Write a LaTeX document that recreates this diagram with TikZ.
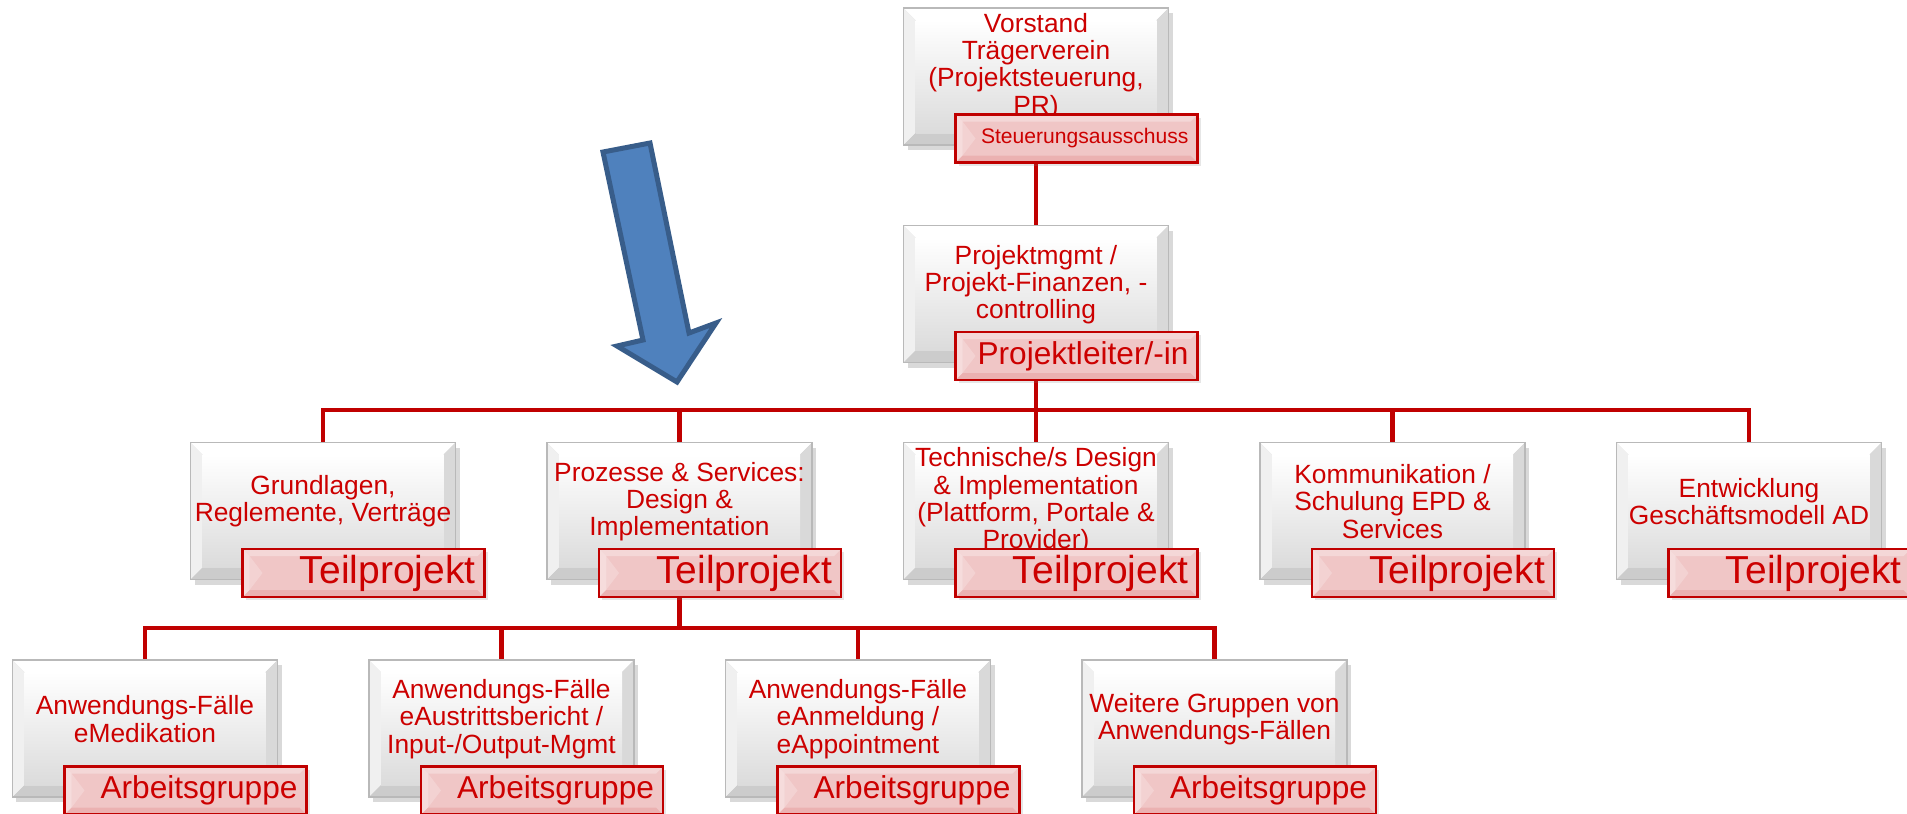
\documentclass[tikz,border=0pt]{standalone}
\usepackage{fontspec}
\setmainfont{Liberation Sans}
\usetikzlibrary{calc}
\usetikzlibrary{shadows}
\usetikzlibrary{backgrounds}

\definecolor{orgred}{RGB}{192,0,0}
\definecolor{textred}{RGB}{204,0,0}
\definecolor{rolepink}{RGB}{240,198,198}
\definecolor{arrowblue}{RGB}{79,129,189}
\definecolor{arrowedge}{RGB}{56,93,138}

\tikzset{
  orgbox/.style={rectangle, minimum width=2.65cm, minimum height=1.37cm, inner sep=0pt,
    draw=gray!55, line width=.5pt, fill=gray!30,
    drop shadow={shadow xshift=.04cm, shadow yshift=-.05cm, opacity=.3},
    path picture={
      \fill[white] (path picture bounding box.north west) -- (path picture bounding box.north east)
        -- ([shift={(-.12,-.12)}]path picture bounding box.north east)
        -- ([shift={(.12,-.12)}]path picture bounding box.north west) -- cycle;
      \fill[gray!12] (path picture bounding box.north west) -- ([shift={(.12,-.12)}]path picture bounding box.north west)
        -- ([shift={(.12,.12)}]path picture bounding box.south west) -- (path picture bounding box.south west) -- cycle;
      \fill[gray!30] (path picture bounding box.north east) -- (path picture bounding box.south east)
        -- ([shift={(-.12,.12)}]path picture bounding box.south east)
        -- ([shift={(-.12,-.12)}]path picture bounding box.north east) -- cycle;
      \fill[gray!40] (path picture bounding box.south west) -- ([shift={(.12,.12)}]path picture bounding box.south west)
        -- ([shift={(-.12,.12)}]path picture bounding box.south east) -- (path picture bounding box.south east) -- cycle;
      \shade[top color=white, bottom color=gray!28] ([shift={(.12,-.12)}]path picture bounding box.north west)
        rectangle ([shift={(-.12,.12)}]path picture bounding box.south east);
    }},
  boxtext/.style={text=textred, font=\fontsize{7.5}{7.75}\selectfont, align=center, inner sep=0pt},
  rolelabel/.style={rectangle, minimum width=2.42cm, minimum height=.48cm, inner xsep=.09cm, inner ysep=0pt,
    text width=2.24cm, align=right, text=textred, draw=orgred, line width=.6pt, fill=rolepink,
    drop shadow={shadow xshift=.03cm, shadow yshift=-.03cm, opacity=.2},
    path picture={
      \fill[white, opacity=.4] (path picture bounding box.north west) -- ([shift={(.07,-.07)}]path picture bounding box.north west)
        -- ([shift={(.07,.07)}]path picture bounding box.south west) -- (path picture bounding box.south west) -- cycle;
      \fill[white, opacity=.3] (path picture bounding box.north west) -- (path picture bounding box.north east)
        -- ([shift={(-.07,-.07)}]path picture bounding box.north east)
        -- ([shift={(.07,-.07)}]path picture bounding box.north west) -- cycle;
      \fill[orgred, opacity=.1] (path picture bounding box.south west) -- ([shift={(.07,.07)}]path picture bounding box.south west)
        -- ([shift={(-.07,.07)}]path picture bounding box.south east) -- (path picture bounding box.south east) -- cycle;
      \fill[white, opacity=.22] ([shift={(.07,-.07)}]path picture bounding box.north west)
        -- ([xshift=.2cm]path picture bounding box.west)
        -- ([shift={(.07,.07)}]path picture bounding box.south west) -- cycle;
    }},
  orgline/.style={draw=orgred, line width=.045cm},
}

\begin{document}
\begin{tikzpicture}

\useasboundingbox (0,0) rectangle (19.07,-8.13);

\coordinate (bus1) at (10.36,-4.10);
\coordinate (bus2) at (6.795,-6.28);

% Leitung
\node[orgbox] (vorstand) at (10.36,-0.765) {};
\node[boxtext] (vorstand-t) at ([yshift=.1cm]vorstand.center) {Vorstand\\Trägerverein\\(Projektsteuerung,\\PR)};
\node[rolelabel, font=\fontsize{6}{7}\selectfont] (vorstand-l) at ([shift={(.405,-.62)}]vorstand.center) {Steuerungsausschuss};

\node[orgbox] (pmgmt) at (10.36,-2.94) {};
\node[boxtext] (pmgmt-t) at ([yshift=.095cm]pmgmt.center) {Projektmgmt /\\Projekt-Finanzen, -\\controlling};
\node[rolelabel, font=\fontsize{9}{10}\selectfont] (pmgmt-l) at ([shift={(.405,-.62)}]pmgmt.center) {Projektleiter/-in};

% Teilprojekte
\node[orgbox] (tp1) at (3.23,-5.11) {};
\node[boxtext] (tp1-t) at ([yshift=.095cm]tp1.center) {Grundlagen,\\Reglemente, Verträge};
\node[rolelabel, font=\fontsize{11.1}{12}\selectfont] (tp1-l) at ([shift={(.405,-.62)}]tp1.center) {Teilprojekt};

\node[orgbox] (tp2) at (6.795,-5.11) {};
\node[boxtext] (tp2-t) at ([yshift=.095cm]tp2.center) {Prozesse \& Services:\\Design \&\\Implementation};
\node[rolelabel, font=\fontsize{11.1}{12}\selectfont] (tp2-l) at ([shift={(.405,-.62)}]tp2.center) {Teilprojekt};

\node[orgbox] (tp3) at (10.36,-5.11) {};
\node[boxtext] (tp3-t) at ([yshift=.1cm]tp3.center) {Technische/s Design\\\& Implementation\\(Plattform, Portale \&\\Provider)};
\node[rolelabel, font=\fontsize{11.1}{12}\selectfont] (tp3-l) at ([shift={(.405,-.62)}]tp3.center) {Teilprojekt};

\node[orgbox] (tp4) at (13.925,-5.11) {};
\node[boxtext] (tp4-t) at ([yshift=.095cm]tp4.center) {Kommunikation /\\Schulung EPD \&\\Services};
\node[rolelabel, font=\fontsize{11.1}{12}\selectfont] (tp4-l) at ([shift={(.405,-.62)}]tp4.center) {Teilprojekt};

\node[orgbox] (tp5) at (17.49,-5.11) {};
\node[boxtext] (tp5-t) at ([yshift=.095cm]tp5.center) {Entwicklung\\Geschäftsmodell AD};
\node[rolelabel, font=\fontsize{11.1}{12}\selectfont] (tp5-l) at ([shift={(.405,-.62)}]tp5.center) {Teilprojekt};

% Arbeitsgruppen
\node[orgbox] (ag1) at (1.45,-7.285) {};
\node[boxtext] (ag1-t) at ([yshift=.095cm]ag1.center) {Anwendungs-Fälle\\eMedikation};
\node[rolelabel, font=\fontsize{9}{10}\selectfont] (ag1-l) at ([shift={(.405,-.62)}]ag1.center) {Arbeitsgruppe};

\node[orgbox] (ag2) at (5.015,-7.285) {};
\node[boxtext] (ag2-t) at ([yshift=.095cm]ag2.center) {Anwendungs-Fälle\\eAustrittsbericht /\\Input-/Output-Mgmt};
\node[rolelabel, font=\fontsize{9}{10}\selectfont] (ag2-l) at ([shift={(.405,-.62)}]ag2.center) {Arbeitsgruppe};

\node[orgbox] (ag3) at (8.58,-7.285) {};
\node[boxtext] (ag3-t) at ([yshift=.095cm]ag3.center) {Anwendungs-Fälle\\eAnmeldung /\\eAppointment};
\node[rolelabel, font=\fontsize{9}{10}\selectfont] (ag3-l) at ([shift={(.405,-.62)}]ag3.center) {Arbeitsgruppe};

\node[orgbox] (ag4) at (12.145,-7.285) {};
\node[boxtext] (ag4-t) at ([yshift=.095cm]ag4.center) {Weitere Gruppen von\\Anwendungs-Fällen};
\node[rolelabel, font=\fontsize{9}{10}\selectfont] (ag4-l) at ([shift={(.405,-.62)}]ag4.center) {Arbeitsgruppe};

% Verbindungen
\begin{scope}[on background layer]
\draw[orgline] (vorstand) -- (pmgmt);
\draw[orgline] (pmgmt) -- (pmgmt |- bus1) -| (tp1);
\draw[orgline] (pmgmt) -- (pmgmt |- bus1) -| (tp2);
\draw[orgline] (pmgmt) -- (pmgmt |- bus1) -| (tp3);
\draw[orgline] (pmgmt) -- (pmgmt |- bus1) -| (tp4);
\draw[orgline] (pmgmt) -- (pmgmt |- bus1) -| (tp5);
\draw[orgline] (tp2) -- (tp2 |- bus2) -| (ag1);
\draw[orgline] (tp2) -- (tp2 |- bus2) -| (ag2);
\draw[orgline] (tp2) -- (tp2 |- bus2) -| (ag3);
\draw[orgline] (tp2) -- (tp2 |- bus2) -| (ag4);
\end{scope}

% Pfeil
\coordinate (P1) at (6.03,-1.52);
\coordinate (P2) at (6.50,-1.43);
\coordinate (P3) at (6.89,-3.33);
\coordinate (P4) at (7.16,-3.23);
\coordinate (P5) at (6.77,-3.82);
\coordinate (P6) at (6.17,-3.46);
\coordinate (P7) at (6.43,-3.40);
\filldraw[fill=arrowblue, draw=arrowedge, line width=.05cm] (P1)--(P2)--(P3)--(P4)--(P5)--(P6)--(P7)--cycle;

\end{tikzpicture}
\end{document}
